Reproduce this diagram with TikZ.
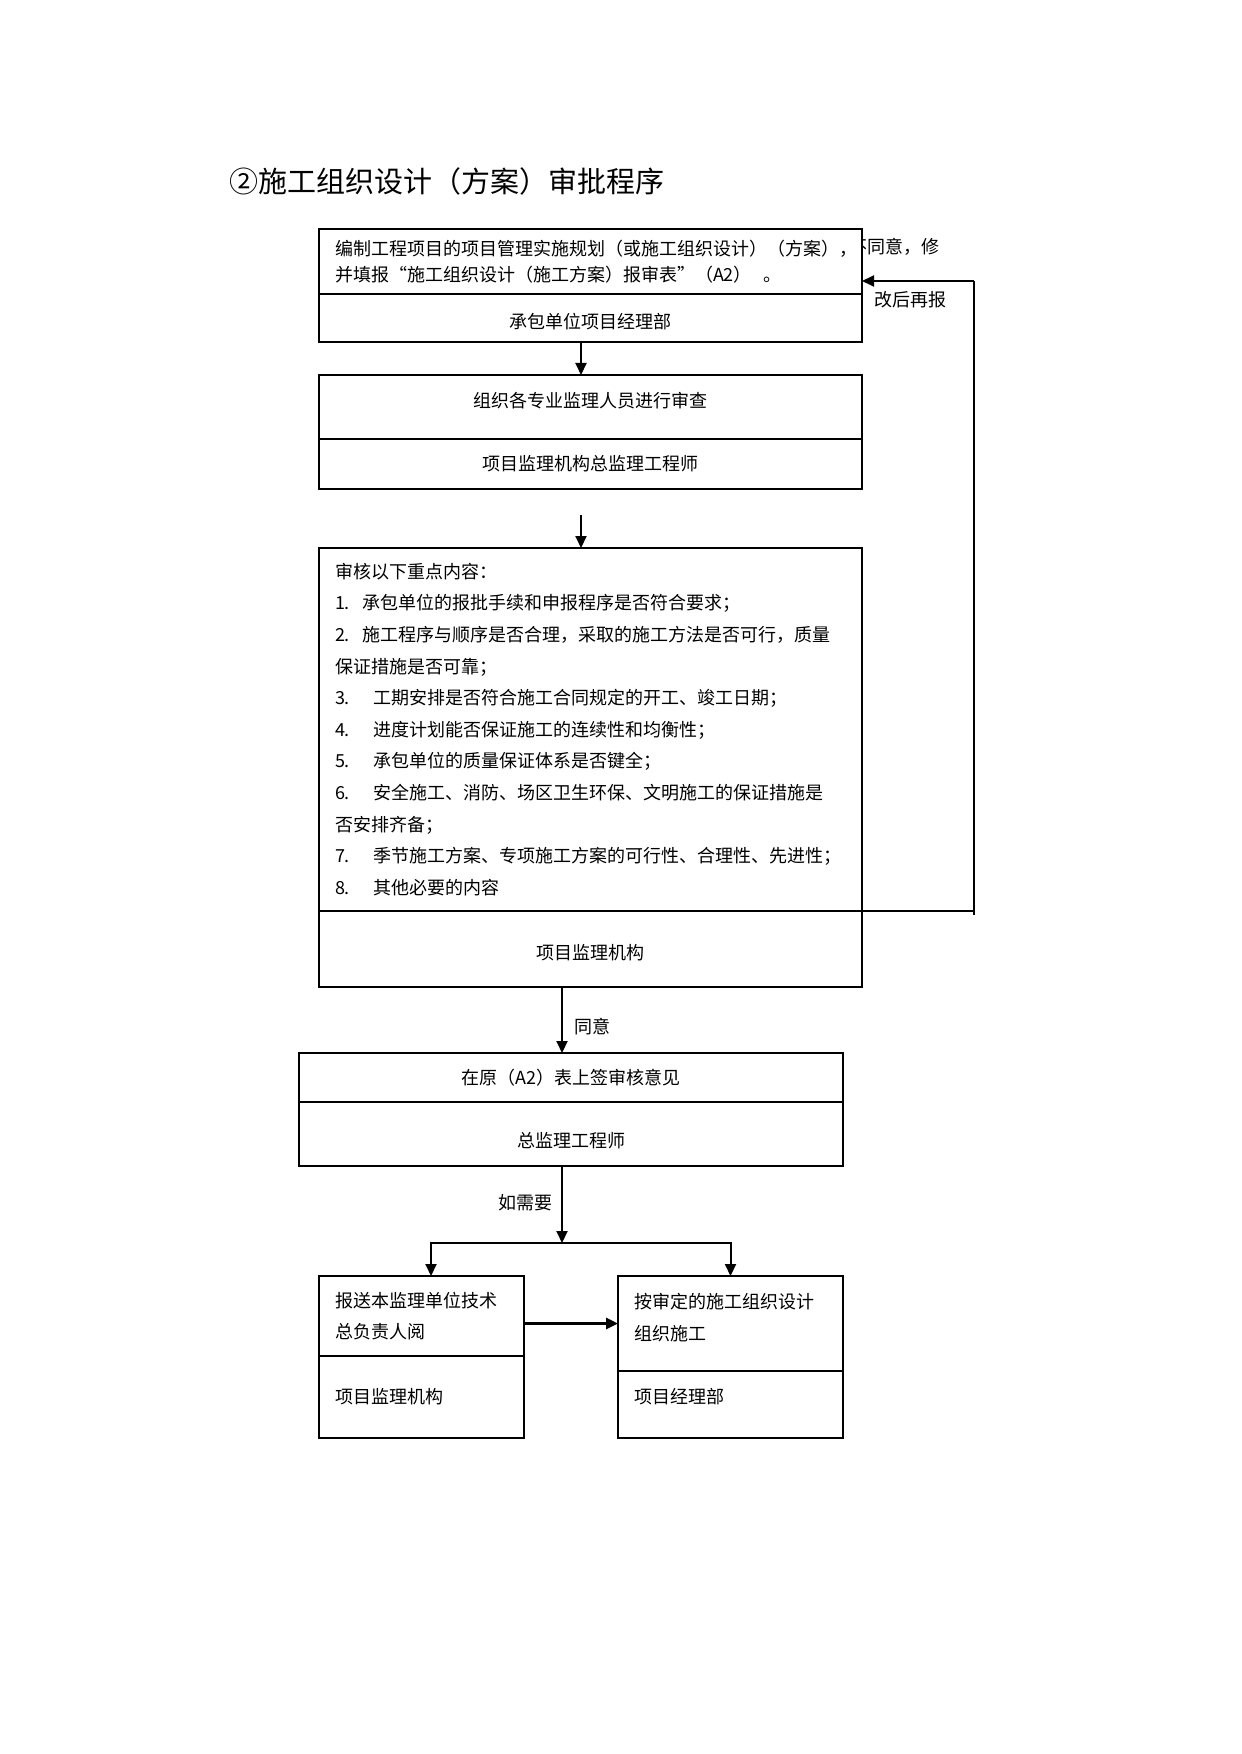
\documentclass[tikz,border=0pt]{standalone}
\usepackage{fontspec}
\setmainfont{Noto Sans CJK SC}
\usetikzlibrary{positioning, arrows.meta}

\begin{document}
\begin{tikzpicture}[
  x=0.5pt, y=-0.5pt,
  font=\fontsize{9pt}{15.8pt}\selectfont,
  part/.style={draw, line width=0.7pt, fill=white, outer sep=0pt,
    inner xsep=8pt, inner ysep=0pt, minimum width=271.5pt, align=center},
  lpart/.style={part, text width=#1, align=left},
  arrow/.style={-{Triangle[length=6pt, width=5.5pt]}, line width=1pt},
  back/.style={line width=0.6pt},
  lbl/.style={inner sep=0pt},
]
  \useasboundingbox (0,0) rectangle (1241,1754);

  \node[lbl, anchor=west, font=\fontsize{14.5pt}{16pt}\selectfont] (title)
    at (229,181) {②施工组织设计（方案）审批程序};
  \node[lbl, anchor=east] (nook) at (940,247) {不同意，修};
  \node[lbl, anchor=west] (redo) at (874,300) {改后再报};

  % boxes, top to bottom
  \node[lpart=255.5pt, minimum height=32.5pt, anchor=north west,
    font=\fontsize{9pt}{13pt}\selectfont] (b1a) at (319,229)
    {编制工程项目的项目管理实施规划（或施工组织设计）（方案），\\
     并填报“施工组织设计（施工方案）报审表”（A2）\ \ 。};
  \node[part, minimum height=24pt, text height=11.4pt, text depth=1.1pt,
    below=0pt of b1a] (b1b) {承包单位项目经理部};

  \node[part, minimum height=32pt, text height=8pt, text depth=7.8pt,
    below=16.5pt of b1b] (b2a) {组织各专业监理人员进行审查};
  \node[part, minimum height=25pt, below=0pt of b2a] (b2b) {项目监理机构总监理工程师};

  \node[lpart=255.5pt, minimum height=181.5pt, below=29.5pt of b2b] (b3a)
    {审核以下重点内容：\\
     \makebox[14pt][l]{1.}承包单位的报批手续和申报程序是否符合要求；\\
     \makebox[14pt][l]{2.}施工程序与顺序是否合理，采取的施工方法是否可行，质量\\
     保证措施是否可靠；\\
     \makebox[19pt][l]{3.}工期安排是否符合施工合同规定的开工、竣工日期；\\
     \makebox[19pt][l]{4.}进度计划能否保证施工的连续性和均衡性；\\
     \makebox[19pt][l]{5.}承包单位的质量保证体系是否键全；\\
     \makebox[19pt][l]{6.}安全施工、消防、场区卫生环保、文明施工的保证措施是\\
     否安排齐备；\\
     \makebox[19pt][l]{7.}季节施工方案、专项施工方案的可行性、合理性、先进性；\\
     \makebox[19pt][l]{8.}其他必要的内容};
  \node[part, minimum height=38pt, text height=11.4pt, text depth=1.1pt,
    below=0pt of b3a] (b3b) {项目监理机构};

  \node[part, minimum width=272pt, minimum height=24.5pt, below=33pt of b3b,
    xshift=-9.75pt] (b4a) {在原（A2）表上签审核意见};
  \node[part, minimum width=272pt, minimum height=32pt, text height=14.7pt,
    text depth=1.1pt, below=0pt of b4a] (b4b) {总监理工程师};

  \node[lpart=86.5pt, minimum width=102.5pt, minimum height=40pt,
    below right=55pt and 10pt of b4b.south west] (b5a) {报送本监理单位技术\\总负责人阅};
  \node[lpart=86.5pt, minimum width=102.5pt, minimum height=41pt, below=0pt of b5a] (b5b) {项目监理机构};

  \node[lpart=96.5pt, minimum width=112.5pt, minimum height=47.5pt, text height=8pt,
    text depth=22.9pt, below left=55pt and 0pt of b4b.south east] (b6a) {按审定的施工组织设计\\组织施工};
  \node[lpart=96.5pt, minimum width=112.5pt, minimum height=33.5pt, text height=8pt,
    text depth=8.9pt, below=0pt of b6a] (b6b) {项目经理部};

  % connectors
  \draw[arrow] ([xshift=-4.75pt]b1b.south) -- ([xshift=-4.75pt]b2a.north);
  \draw[arrow] ([xshift=-4.75pt, yshift=-13pt]b2b.south) -- ([xshift=-4.75pt]b3a.north);
  \draw[arrow] ([xshift=-14.25pt]b3b.south) -- ([xshift=-4.5pt]b4a.north)
    node[lbl, pos=0.6, right=5.5pt] {同意};

  \coordinate (fork) at ([xshift=-4.5pt, yshift=-38.5pt]b4b.south);
  \draw[arrow] ([xshift=-4.5pt]b4b.south) -- (fork)
    node[lbl, pos=0.48, left=4.5pt] {如需要};
  \draw[arrow] (fork) -| ([xshift=4.75pt]b5a.north);
  \draw[arrow] (fork) -| (b6a.north);
  \draw[arrow, line width=1.5pt] (b6a.west -| b5a.east) -- (b6a.west);

  % feedback loop
  \coordinate (fb) at ([xshift=56pt]b3b.north east);
  \coordinate (fbin) at ([yshift=-9.75pt]b1a.east);
  \draw[back] (b3b.north east) -- (fb);
  \draw[back] ([yshift=-2pt]fb) -- (fb |- fbin);
  \draw[arrow] (fb |- fbin) -- (fbin);
\end{tikzpicture}
\end{document}
